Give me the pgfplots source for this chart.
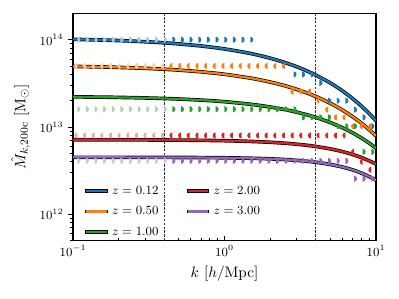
\documentclass[border=0pt]{standalone}
\usepackage{pgfplots}
\pgfplotsset{compat=1.18}
\usepackage{pgfplotstable}
\definecolor{tabblue}{HTML}{1F77B4}
\definecolor{taborange}{HTML}{FF7F0E}
\definecolor{tabgreen}{HTML}{2CA02C}
\definecolor{tabred}{HTML}{D62728}
\definecolor{tabpurple}{HTML}{9467BD}
\pgfdeclareplotmark{hright}{\pgfpathmoveto{\pgfqpoint{0pt}{\pgfplotmarksize}}\pgfpatharc{90}{-90}{\pgfplotmarksize}\pgfpathclose\pgfusepathqfill}
\pgfdeclareplotmark{hleft}{\pgfpathmoveto{\pgfqpoint{0pt}{\pgfplotmarksize}}\pgfpatharc{90}{270}{\pgfplotmarksize}\pgfpathclose\pgfusepathqfill}

\pgfplotstableread{
k      b        o        g        r        p
0.1    1.010e14 4.947e13 2.217e13 7.143e12 4.499e12
0.15   9.93e13  4.881e13 2.201e13 7.138e12 4.498e12
0.2    9.78e13  4.819e13 2.185e13 7.132e12 4.496e12
0.3    9.48e13  4.702e13 2.153e13 7.117e12 4.492e12
0.4    9.21e13  4.590e13 2.123e13 7.101e12 4.488e12
0.5    8.95e13  4.485e13 2.093e13 7.083e12 4.482e12
0.7    8.48e13  4.288e13 2.034e13 7.043e12 4.469e12
1      7.84e13  4.018e13 1.951e13 6.974e12 4.444e12
1.5    6.93e13  3.621e13 1.819e13 6.841e12 4.389e12
2      6.15e13  3.275e13 1.697e13 6.691e12 4.322e12
2.5    5.48e13  2.971e13 1.584e13 6.529e12 4.243e12
3      4.90e13  2.700e13 1.479e13 6.357e12 4.154e12
3.5    4.39e13  2.458e13 1.381e13 6.178e12 4.057e12
4      3.94e13  2.241e13 1.290e13 5.994e12 3.953e12
5      3.19e13  1.870e13 1.125e13 5.616e12 3.727e12
6      2.60e13  1.565e13 9.83e12  5.233e12 3.485e12
7      2.12e13  1.315e13 8.58e12  4.851e12 3.231e12
8      1.74e13  1.108e13 7.50e12  4.477e12 2.972e12
9      1.43e13  9.35e12  6.56e12  4.113e12 2.711e12
10     1.18e13  7.91e12  5.73e12  3.768e12 2.459e12
}\lines

\pgfplotstableread{
k      b       o       g       r       p
0.1067 1.0e14  5.0e13  1.6e13  8.0e12  4.1e12
0.1217 1.0e14  5.0e13  1.6e13  8.0e12  4.1e12
0.1388 1.0e14  5.0e13  1.6e13  8.0e12  4.1e12
0.1583 1.0e14  5.0e13  1.6e13  8.0e12  4.1e12
0.1805 1.0e14  5.0e13  1.6e13  8.0e12  4.1e12
0.2058 1.0e14  5.0e13  1.6e13  8.0e12  4.1e12
0.2347 1.0e14  5.0e13  1.6e13  8.0e12  4.1e12
0.2677 1.0e14  5.0e13  1.6e13  8.0e12  4.1e12
0.3053 1.0e14  5.0e13  1.6e13  8.0e12  4.1e12
0.3482 1.0e14  5.0e13  1.6e13  8.0e12  4.1e12
0.3972 1.0e14  5.0e13  1.6e13  8.0e12  4.1e12
}\light

\pgfplotstableread{
k      b       o       g       r       p
0.4529 1.0e14  5.0e13  1.6e13  8.0e12  4.1e12
0.5166 1.0e14  5.0e13  1.6e13  8.0e12  4.1e12
0.5892 1.0e14  5.0e13  1.6e13  8.0e12  4.1e12
0.6720 1.0e14  5.0e13  1.6e13  8.0e12  4.1e12
0.7665 1.0e14  5.0e13  1.6e13  8.0e12  4.1e12
0.8742 1.0e14  5.0e13  1.6e13  8.0e12  4.1e12
0.9970 1.0e14  5.0e13  1.6e13  8.0e12  4.1e12
1.137  1.0e14  5.0e13  1.6e13  8.0e12  4.1e12
1.297  1.0e14  5.0e13  1.6e13  8.0e12  4.1e12
1.479  1.0e14  5.0e13  1.6e13  8.0e12  4.1e12
1.687  nan     5.0e13  1.6e13  8.0e12  4.1e12
1.924  nan     5.0e13  1.6e13  8.0e12  4.1e12
2.194  nan     5.0e13  1.6e13  8.0e12  4.1e12
2.503  nan     5.0e13  1.6e13  8.0e12  4.1e12
2.855  4.0e13  2.54e13 1.6e13  8.0e12  4.1e12
3.256  4.0e13  2.54e13 1.29e13 8.0e12  4.1e12
3.714  4.0e13  2.54e13 1.29e13 8.0e12  4.1e12
4.236  3.2e13  2.0e13  1.29e13 8.0e12  4.1e12
4.831  2.0e13  1.58e13 1.29e13 8.0e12  4.1e12
5.508  2.0e13  1.29e13 1.02e13 8.0e12  4.1e12
6.284  2.0e13  1.29e13 1.02e13 8.0e12  4.1e12
7.166  1.58e13 1.02e13 1.02e13 5.2e12  2.56e12
8.174  1.29e13 1.02e13 5.2e12  4.0e12  2.56e12
9.320  1.02e13 1.02e13 5.2e12  3.24e12 2.56e12
}\dark

\begin{document}
\begin{tikzpicture}
\begin{axis}[
  scale only axis, width=218.7pt, height=164pt,
  xmode=log, ymode=log,
  xmin=0.1, xmax=10, ymin=5e11, ymax=2e14,
  axis line style={line width=0.8pt},
  tick pos=left, xtick align=inside, ytick align=outside,
  major tick length=3.5pt, minor tick length=2pt,
  tick style={black, line width=0.6pt},
  tick label style={font=\fontsize{9}{10}\selectfont},
  label style={font=\fontsize{11}{13}\selectfont},
  xlabel={$k\ [h/\mathrm{Mpc}]$},
  ylabel={$\hat{M}_{k,\mathrm{200c}}\ [\mathrm{M}_\odot]$},
  legend columns=2, legend cell align=left,
  legend style={draw=none, fill=none, at={(0.02,-0.01)}, anchor=south west,
    font=\fontsize{9}{10}\selectfont, row sep=3.5pt,
    /tikz/every even column/.append style={column sep=17pt}},
  legend image code/.code={
    \draw[black, line width=2.7pt] (0pt,0pt) -- (16pt,0pt);
    \draw[#1, line width=1.8pt] (0.6pt,0pt) -- (15.4pt,0pt);
  },
  mark size=2.2pt,
]
\addplot[black!80, line width=0.5pt, dash pattern=on 1.8pt off 1pt, forget plot] coordinates {(0.4,5e11) (0.4,2e14)};
\addplot[black!80, line width=0.5pt, dash pattern=on 1.8pt off 1pt, forget plot] coordinates {(4,5e11) (4,2e14)};

\addplot[only marks, mark=hright, tabblue!40!white, forget plot] table[x=k,y=b] {\light};
\addplot[only marks, mark=hleft, taborange!40!white, forget plot] table[x=k,y=o] {\light};
\addplot[only marks, mark=hright, tabgreen!40!white, forget plot] table[x=k,y=g] {\light};
\addplot[only marks, mark=hleft, tabred!40!white, forget plot] table[x=k,y=r] {\light};
\addplot[only marks, mark=hright, tabpurple!40!white, forget plot] table[x=k,y=p] {\light};

\addplot[only marks, mark=hright, tabblue, forget plot] table[x=k,y=b] {\dark};
\addplot[only marks, mark=hleft, taborange, forget plot] table[x=k,y=o] {\dark};
\addplot[only marks, mark=hright, tabgreen, forget plot] table[x=k,y=g] {\dark};
\addplot[only marks, mark=hleft, tabred, forget plot] table[x=k,y=r] {\dark};
\addplot[only marks, mark=hright, tabpurple, forget plot] table[x=k,y=p] {\dark};

\addplot[black, line width=2.6pt, smooth, forget plot] table[x=k,y=b] {\lines};
\addplot[tabblue, line width=1.6pt, smooth, forget plot] table[x=k,y=b] {\lines};
\addplot[black, line width=2.6pt, smooth, forget plot] table[x=k,y=o] {\lines};
\addplot[taborange, line width=1.6pt, smooth, forget plot] table[x=k,y=o] {\lines};
\addplot[black, line width=2.6pt, smooth, forget plot] table[x=k,y=g] {\lines};
\addplot[tabgreen, line width=1.6pt, smooth, forget plot] table[x=k,y=g] {\lines};
\addplot[black, line width=2.6pt, smooth, forget plot] table[x=k,y=r] {\lines};
\addplot[tabred, line width=1.6pt, smooth, forget plot] table[x=k,y=r] {\lines};
\addplot[black, line width=2.6pt, smooth, forget plot] table[x=k,y=p] {\lines};
\addplot[tabpurple, line width=1.6pt, smooth, forget plot] table[x=k,y=p] {\lines};

\addlegendimage{tabblue}\addlegendentry{$z = 0.12$}
\addlegendimage{tabred}\addlegendentry{$z = 2.00$}
\addlegendimage{taborange}\addlegendentry{$z = 0.50$}
\addlegendimage{tabpurple}\addlegendentry{$z = 3.00$}
\addlegendimage{tabgreen}\addlegendentry{$z = 1.00$}
\end{axis}
\pgfresetboundingbox
\path[use as bounding box] ([shift={(-52.7pt,-42.1pt)}]current axis.south west) rectangle ([shift={(16.6pt,9.7pt)}]current axis.north east);
\end{tikzpicture}
\end{document}
